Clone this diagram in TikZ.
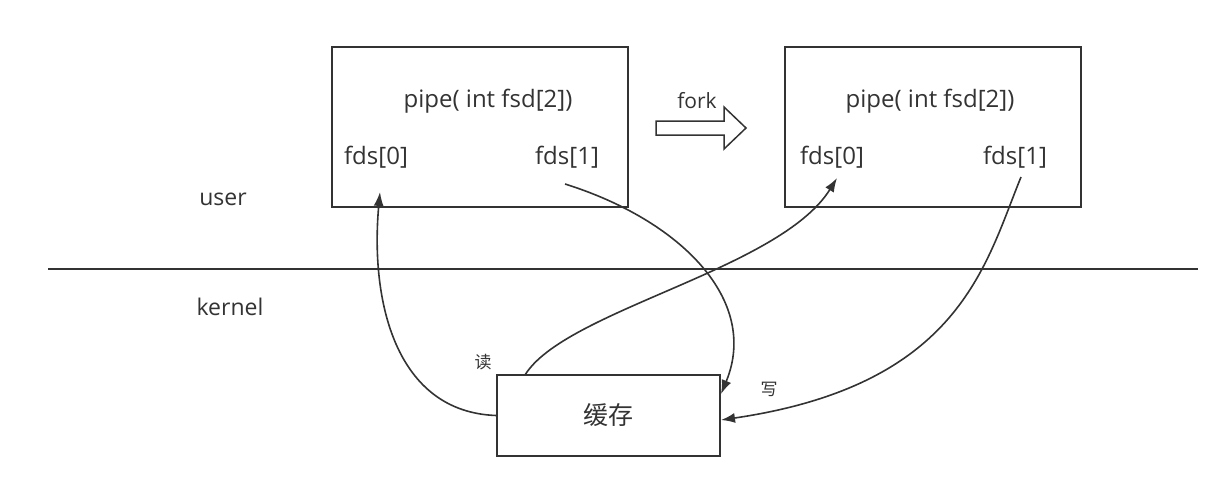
\documentclass[tikz,border=0pt]{standalone}
\usepackage{fontspec}
\setmainfont{Open Sans}
\newfontfamily\cjk{Noto Sans CJK SC}
\usetikzlibrary{arrows.meta}
\definecolor{ink}{HTML}{333333}
\tikzset{
  box/.style={draw=ink, line width=1.5pt, inner sep=0pt},
  lbl/.style={text=ink, inner sep=0pt, font=\fontsize{24}{28}\selectfont},
  small/.style={text=ink, inner sep=0pt, font=\cjk\fontsize{17}{20}\selectfont},
  conn/.style={draw=ink, line width=1.6pt, -{Latex[length=14pt,width=10pt]}},
}
\begin{document}
\begin{tikzpicture}[x=1pt,y=-1pt]
\useasboundingbox (0,0) rectangle (1230,488);
% boxes
\draw[box] (332,47) rectangle (628,207);
\draw[box] (785,47) rectangle (1081,207);
\node[box, minimum width=223pt, minimum height=81pt, font=\cjk\fontsize{25}{30}\selectfont, text=ink] (buf) at (608.5,415.5) {缓存};
% separator
\draw[draw=ink, line width=1.5pt] (48,269) -- (1198,269);
% labels
\node[lbl] (pipeA) at (488,101) {pipe( int fsd[2])};
\node[lbl] (pipeB) at (930,101) {pipe( int fsd[2])};
\node[lbl] (fa0) at (376,157) {fds[0]};
\node[lbl] (fa1) at (567,157) {fds[1]};
\node[lbl] (fb0) at (832,157) {fds[0]};
\node[lbl] (fb1) at (1015,157) {fds[1]};
\node[lbl, font=\fontsize{23}{27}\selectfont] (user) at (223,199) {user};
\node[lbl, font=\fontsize{23}{27}\selectfont] (kernel) at (230,307) {kernel};
\node[lbl, font=\fontsize{21}{25}\selectfont] (fork) at (697,101) {fork};
\node[small] (du) at (483,362) {读};
\node[small] (xie) at (769,389) {写};
% fork block arrow
\draw[draw=ink, line width=1.5pt, fill=white] (656,121) -- (724,121) -- (724,107) -- (746,128) -- (724,149) -- (724,135) -- (656,135) -- cycle;
% connector end points
\coordinate (a0in) at (380,192);
\coordinate (a1out) at (565,184);
\coordinate (b0in) at (837,178);
\coordinate (b1out) at (1021,177);
\coordinate (bufR1) at (721,394);
\coordinate (bufR2) at (721,420);
\coordinate (bufT) at (525,375);
% connectors
\draw[conn] (buf.west) .. controls (395,412) and (370,300) .. (a0in);
\draw[conn] (a1out) .. controls (680,220) and (760,300) .. (bufR1);
\draw[conn] (bufT) .. controls (565,310) and (780,270) .. (b0in);
\draw[conn] (b1out) .. controls (985,265) and (960,385) .. (bufR2);
\end{tikzpicture}
\end{document}
